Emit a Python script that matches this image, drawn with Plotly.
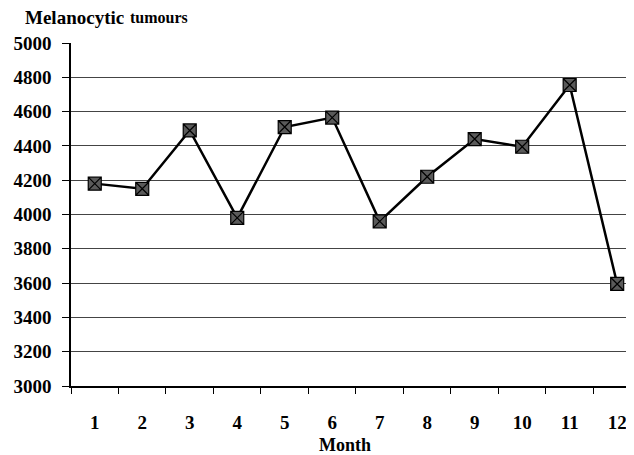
import plotly.graph_objects as go

months = [1, 2, 3, 4, 5, 6, 7, 8, 9, 10, 11, 12]
tumours = [4180, 4150, 4490, 3980, 4510, 4565, 3960, 4220, 4440, 4395, 4755, 3595]
y_ticks = [3000, 3200, 3400, 3600, 3800, 4000, 4200, 4400, 4600, 4800, 5000]

font_family = "Liberation Serif, Times New Roman, serif"

fig = go.Figure()
fig.add_trace(go.Scatter(
    x=months, y=tumours, mode="lines+markers",
    line=dict(color="black", width=2.5),
    marker=dict(symbol="square-x", size=13, color="#5a5a5a",
                line=dict(color="black", width=1.2)),
    showlegend=False, cliponaxis=False,
))

fig.update_layout(
    width=626, height=447,
    margin=dict(l=63, r=4, t=35, b=69),
    paper_bgcolor="white", plot_bgcolor="white",
    font=dict(family=font_family, color="black"),
    xaxis=dict(
        range=[0.5, 12.27], tickvals=months, ticktext=[str(m) for m in months],
        ticks="", showgrid=False, zeroline=False, automargin=False,
        showline=True, linecolor="black", linewidth=1.5,
        tickfont=dict(size=19, family=font_family, color="black", weight="bold"),
        ticklabelstandoff=18,
        minor=dict(tick0=0.5, dtick=1, ticks="outside", ticklen=6,
                   tickcolor="black", tickwidth=1, showgrid=False),
    ),
    yaxis=dict(
        range=[3000, 5000], tickvals=y_ticks, ticks="outside", ticklen=7,
        tickcolor="black", showgrid=True, gridcolor="#444", gridwidth=1.3,
        zeroline=False, showline=True, linecolor="black", linewidth=1.5,
        ticklabelstandoff=7, automargin=False,
        tickfont=dict(size=19, family=font_family, color="black", weight="bold"),
    ),
    annotations=[
        dict(text="<b>Melanocytic</b>", xref="paper", yref="paper", x=-0.0841, y=1.0758,
             xanchor="left", yanchor="middle", showarrow=False, height=22, borderpad=0,
             font=dict(family=font_family, color="black", size=19)),
        dict(text="<b>tumours</b>", xref="paper", yref="paper", x=0.1038, y=1.0729,
             xanchor="left", yanchor="middle", showarrow=False, height=19, borderpad=0,
             font=dict(family=font_family, color="black", size=16)),
        dict(text="<b>Month</b>", xref="paper", yref="paper", x=0.490, y=-0.172,
             xanchor="center", yanchor="middle", showarrow=False,
             font=dict(family=font_family, color="black", size=18)),
    ],
)

fig.write_html("out.html")
